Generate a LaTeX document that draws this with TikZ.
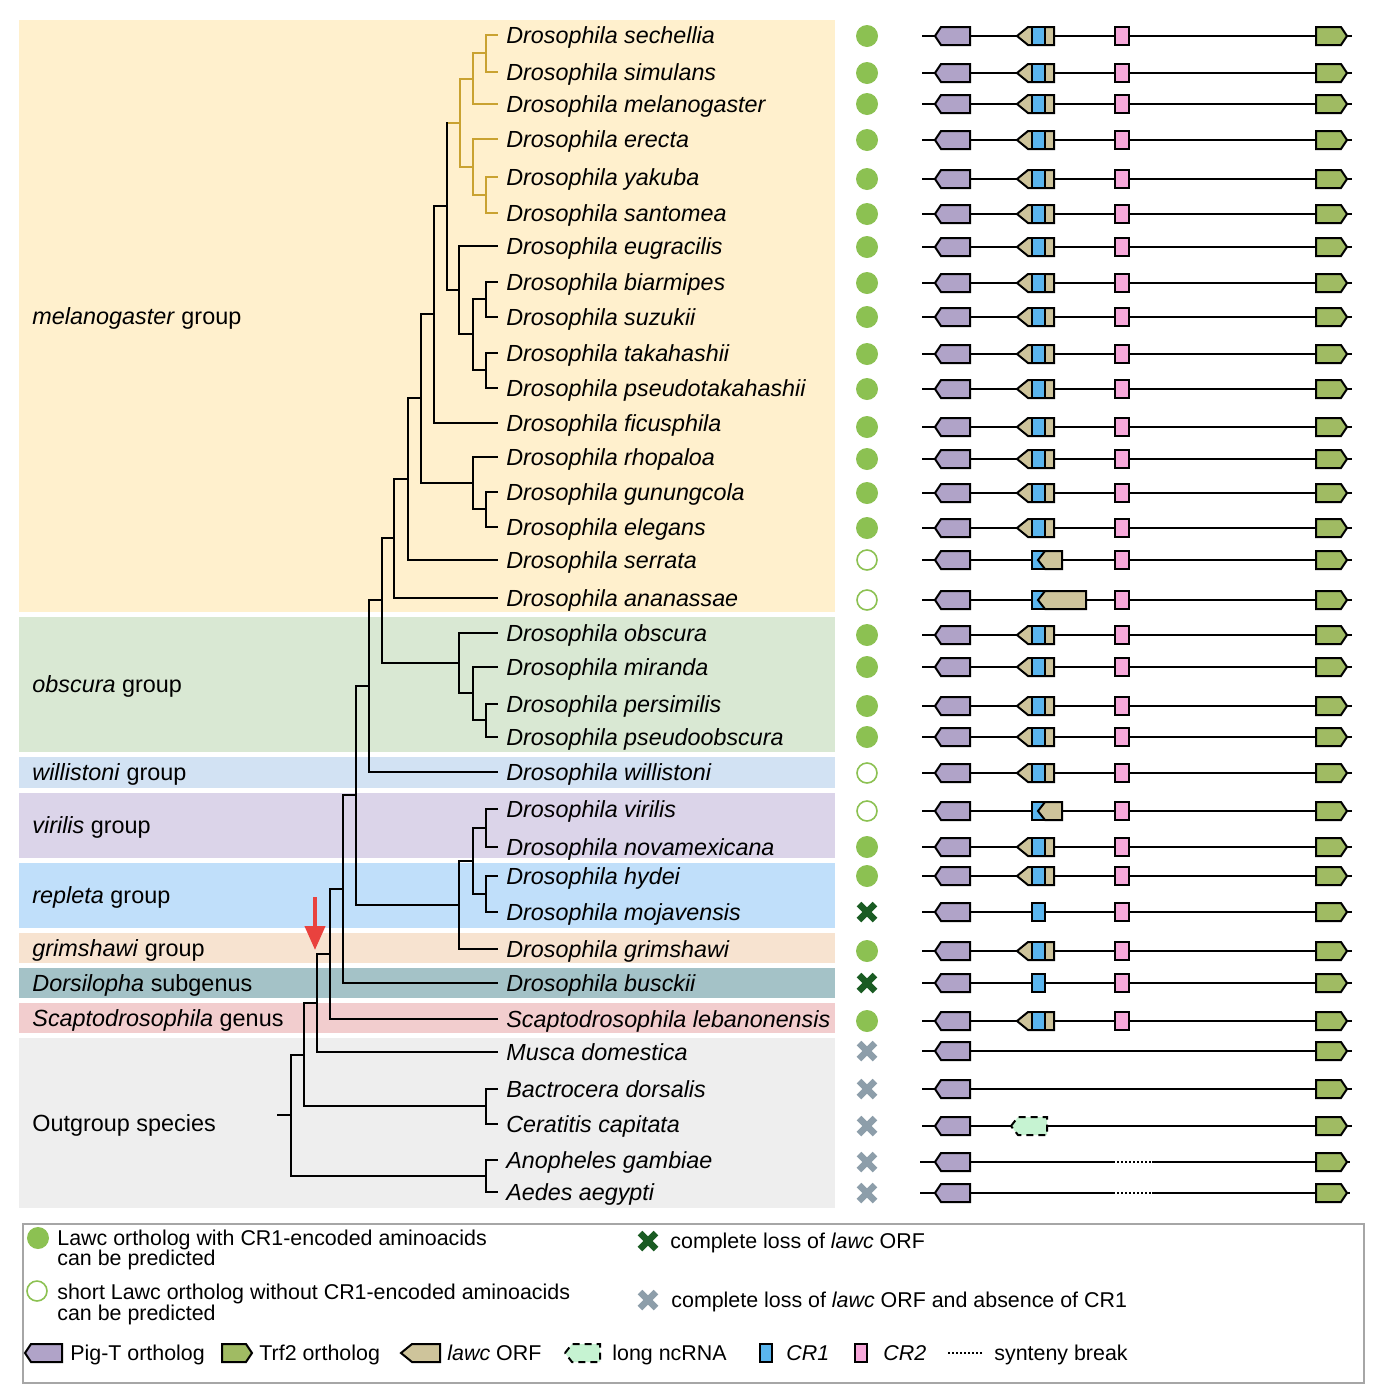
\documentclass[tikz,border=0pt]{standalone}
\usepackage{fontspec}
\setmainfont{Liberation Sans}
\usetikzlibrary{arrows.meta}
\definecolor{bgmel}{HTML}{FFF0CD}
\definecolor{bgobs}{HTML}{D9E8D3}
\definecolor{bgwil}{HTML}{D2E2F3}
\definecolor{bgvir}{HTML}{DBD4E9}
\definecolor{bgrep}{HTML}{C0DFFA}
\definecolor{bggri}{HTML}{F7E3D0}
\definecolor{bgdor}{HTML}{A4C2C7}
\definecolor{bgsca}{HTML}{F2CDCE}
\definecolor{bgout}{HTML}{EEEEEE}
\definecolor{treegold}{HTML}{C9A231}
\definecolor{pigcol}{HTML}{B0A3C8}
\definecolor{trfcol}{HTML}{A0BB63}
\definecolor{lawccol}{HTML}{CEC49B}
\definecolor{cronecol}{HTML}{5AB5EE}
\definecolor{crtwocol}{HTML}{F7A8DA}
\definecolor{ncrnacol}{HTML}{C6F3D2}
\definecolor{dotgreen}{HTML}{8CC152}
\definecolor{xdarkcol}{HTML}{1A5C23}
\definecolor{xgraycol}{HTML}{8D9EAA}
\definecolor{arrowred}{HTML}{E9423E}
\definecolor{legborder}{HTML}{A6A6A6}

\newcommand\gLine{\draw[gline] (922,0) -- (1352,0);}
\newcommand\gPig{\draw[gbox,fill=pigcol] (935,0) -- (941,-9) -- (970,-9) -- (970,9) -- (941,9) -- cycle;}
\newcommand\gTrf{\draw[gbox,fill=trfcol] (1316,-9) -- (1341,-9) -- (1347,0) -- (1341,9) -- (1316,9) -- cycle;}
\newcommand\gCRtwo{\draw[gbox,fill=crtwocol] (1115,-9) rectangle (1129,9);}
\newcommand\gCRone{\draw[gbox,fill=cronecol] (1032,-9) rectangle (1045,9);}
\newcommand\gLawcFull{\draw[gbox,fill=lawccol] (1017,0) -- (1028,-9) -- (1054,-9) -- (1054,9) -- (1028,9) -- cycle; \draw[gbox,fill=cronecol] (1032,-9) rectangle (1045,9);}

\tikzset{
  gline/.style={line width=0.9pt,black},
  gbox/.style={line width=1pt,black,line join=miter},
  gtree/.style={line width=1pt,black},
  goldtree/.style={line width=1pt,treegold},
  sp/.style={anchor=west,inner sep=1.5pt,yshift=-1pt,font=\fontsize{11.65pt}{14pt}\selectfont\itshape,text height=8.4pt,text depth=2.4pt},
  grp/.style={anchor=west,inner sep=0pt,yshift=-1pt,font=\fontsize{11.7pt}{14pt}\selectfont,text height=8.4pt,text depth=2.4pt},
  lg/.style={anchor=west,inner sep=0pt,yshift=-1pt,font=\fontsize{10.7pt}{12pt}\selectfont,text height=7.8pt,text depth=2.2pt},
  rowF/.pic={\gLine\gPig\gLawcFull\gCRtwo\gTrf},
  rowS/.pic={\gLine\gPig\gCRone\draw[gbox,fill=lawccol] (1038,0) -- (1045,-9) -- (1062,-9) -- (1062,9) -- (1045,9) -- cycle;\gCRtwo\gTrf},
  rowL/.pic={\gLine\gPig\gCRone\draw[gbox,fill=lawccol] (1038,0) -- (1045,-9) -- (1086,-9) -- (1086,9) -- (1045,9) -- cycle;\gCRtwo\gTrf},
  rowC/.pic={\gLine\gPig\gCRone\gCRtwo\gTrf},
  rowN/.pic={\gLine\gPig\gTrf},
  rowR/.pic={\gLine\gPig\draw[gbox,fill=ncrnacol,dash pattern=on 3.5pt off 2.5pt] (1011,0) -- (1018,-9) -- (1047,-9) -- (1047,9) -- (1018,9) -- cycle;\gTrf},
  rowB/.pic={\draw[gline] (920,0) -- (1113,0); \draw[line width=0.8pt,dash pattern=on 1pt off 1pt] (1113,0) -- (1152,0); \draw[gline] (1152,0) -- (1350,0); \gPig\gTrf},
  dotf/.pic={\fill[dotgreen] (0,0) circle[radius=11];},
  doto/.pic={\draw[dotgreen,line width=0.8pt,fill=white] (0,0) circle[radius=10];},
  dotd/.pic={\draw[xdarkcol,line width=3.2pt] (-8,-8) -- (8,8) (-8,8) -- (8,-8);},
  dotg/.pic={\draw[xgraycol,line width=3.2pt] (-8,-8) -- (8,8) (-8,8) -- (8,-8);},
}

\begin{document}
\begin{tikzpicture}[x=0.5pt,y=-0.5pt]
\useasboundingbox (0,0) rectangle (1380,1393);

% background bands
\fill[bgmel] (19,20) rectangle (835,612);
\fill[bgobs] (19,617) rectangle (835,752);
\fill[bgwil] (19,757) rectangle (835,788);
\fill[bgvir] (19,793) rectangle (835,858);
\fill[bgrep] (19,863) rectangle (835,928);
\fill[bggri] (19,933) rectangle (835,963);
\fill[bgdor] (19,968) rectangle (835,998);
\fill[bgsca] (19,1003) rectangle (835,1033);
\fill[bgout] (19,1038) rectangle (835,1208);

% group labels
\node[grp] (gmel) at (32,316) {\textit{melanogaster} group};
\node[grp] (gobs) at (32,684) {\textit{obscura} group};
\node[grp] (gwil) at (32,772) {\textit{willistoni} group};
\node[grp] (gvir) at (32,825) {\textit{virilis} group};
\node[grp] (grep) at (32,895) {\textit{repleta} group};
\node[grp] (ggri) at (32,948) {\textit{grimshawi} group};
\node[grp] (gdor) at (32,983) {\textit{Dorsilopha} subgenus};
\node[grp] (gsca) at (32,1018) {\textit{Scaptodrosophila} genus};
\node[grp] (gout) at (32,1123) {Outgroup species};

% species tips and names
\foreach \y/\nm [count=\i] in {
 35/Drosophila sechellia, 72/Drosophila simulans, 104/Drosophila melanogaster,
 139/Drosophila erecta, 177/Drosophila yakuba, 213/Drosophila santomea,
 246/Drosophila eugracilis, 282/Drosophila biarmipes, 317/Drosophila suzukii,
 353/Drosophila takahashii, 388/Drosophila pseudotakahashii, 423/Drosophila ficusphila,
 457/Drosophila rhopaloa, 492/Drosophila gunungcola, 527/Drosophila elegans,
 560/Drosophila serrata, 598/Drosophila ananassae, 633/Drosophila obscura,
 667/Drosophila miranda, 704/Drosophila persimilis, 737/Drosophila pseudoobscura,
 772/Drosophila willistoni, 809/Drosophila virilis, 847/Drosophila novamexicana,
 876/Drosophila hydei, 912/Drosophila mojavensis, 949/Drosophila grimshawi,
 983/Drosophila busckii, 1019/Scaptodrosophila lebanonensis, 1052/Musca domestica,
 1089/Bactrocera dorsalis, 1124/Ceratitis capitata, 1160/Anopheles gambiae,
 1192/Aedes aegypti}
{
  \coordinate (t\i) at (498,\y);
  \node[sp] (s\i) at (503,\y) {\nm};
}

% internal nodes
\coordinate (a1) at (486,53);
\coordinate (a2) at (473,79);
\coordinate (a3) at (486,195);
\coordinate (a4) at (473,167);
\coordinate (a5) at (460,123);
\coordinate (b1) at (486,299);
\coordinate (b2) at (486,370);
\coordinate (b3) at (473,334);
\coordinate (b4) at (459,290);
\coordinate (b5) at (447,206);
\coordinate (b6) at (434,314);
\coordinate (c1) at (486,509);
\coordinate (c2) at (473,483);
\coordinate (b7) at (421,398);
\coordinate (b8) at (408,479);
\coordinate (b9) at (394,538);
\coordinate (d1) at (486,720);
\coordinate (d2) at (473,693);
\coordinate (d3) at (459,663);
\coordinate (b10) at (382,600);
\coordinate (b11) at (369,686);
\coordinate (e1) at (486,828);
\coordinate (e2) at (486,894);
\coordinate (e3) at (473,861);
\coordinate (e4) at (459,905);
\coordinate (b12) at (356,795);
\coordinate (b13) at (343,889);
\coordinate (b14) at (330,954);
\coordinate (b15) at (317,1003);
\coordinate (f1) at (486,1106);
\coordinate (b16) at (304,1055);
\coordinate (f2) at (486,1176);
\coordinate (root) at (291,1115);
\coordinate (rootstub) at (277,1115);

% tree edges
\foreach \p/\c in {a1/t1,a1/t2,a2/a1,a2/t3,a3/t5,a3/t6,a4/t4,a4/a3,a5/a2,a5/a4}
  \draw[goldtree] (\p) |- (\c);
\foreach \p/\c in {b1/t8,b1/t9,b2/t10,b2/t11,b3/b1,b3/b2,b4/t7,b4/b3,b5/a5,b5/b4,
  b6/b5,b6/t12,c1/t14,c1/t15,c2/t13,c2/c1,b7/b6,b7/c2,b8/b7,b8/t16,b9/b8,b9/t17,
  d1/t20,d1/t21,d2/t19,d2/d1,d3/t18,d3/d2,b10/b9,b10/d3,b11/b10,b11/t22,
  e1/t23,e1/t24,e2/t25,e2/t26,e3/e1,e3/e2,e4/e3,e4/t27,b12/b11,b12/e4,
  b13/b12,b13/t28,b14/b13,b14/t29,b15/b14,b15/t30,f1/t31,f1/t32,
  b16/b15,b16/f1,f2/t33,f2/t34,root/b16,root/f2}
  \draw[gtree] (\p) |- (\c);
\draw[goldtree] ([xshift=0.5pt]b5 |- a5) -- (a5);
\draw[gtree] (rootstub) -- (root);

% red arrow
\coordinate (arrS) at (315,897);
\coordinate (arrE) at (315,950);
\draw[arrowred,line width=2pt,-{Triangle[width=10pt,length=12pt]}] (arrS) -- (arrE);

% status symbols
\foreach \y/\t in {36/f,73/f,104/f,140/f,179/f,214/f,247/f,283/f,317/f,354/f,389/f,427/f,459/f,493/f,528/f,
  560/o,600/o,635/f,667/f,706/f,737/f,773/o,811/o,847/f,876/f,912/d,951/f,983/d,1021/f,
  1051/g,1089/g,1126/g,1162/g,1193/g}
  \pic at (867,\y) {dot\t};

% gene structures
\foreach \y/\t in {36/F,73/F,104/F,140/F,179/F,214/F,247/F,283/F,317/F,354/F,389/F,427/F,459/F,493/F,528/F,
  560/S,600/L,635/F,667/F,706/F,737/F,773/F,811/S,847/F,876/F,912/C,951/F,983/C,1021/F,
  1051/N,1089/N,1126/R,1162/B,1193/B}
  \pic at (0,\y) {row\t};

% legend
\draw[legborder,line width=1pt] (23,1224) rectangle (1364,1383);
\pic at (38,1238) {dotf};
\node[lg] (l1a) at (57,1238) {Lawc ortholog with CR1-encoded aminoacids};
\node[lg] (l1b) at (57,1258) {can be predicted};
\pic at (37,1291) {doto};
\node[lg] (l2a) at (57,1292) {short Lawc ortholog without CR1-encoded aminoacids};
\node[lg] (l2b) at (57,1313) {can be predicted};
\pic at (648,1241) {dotd};
\node[lg] (l3) at (670,1241) {complete loss of \textit{lawc} ORF};
\pic at (648,1300) {dotg};
\node[lg] (l4) at (671,1300) {complete loss of \textit{lawc} ORF and absence of CR1};

\draw[gbox,fill=pigcol] (25,1353) -- (31,1344) -- (62,1344) -- (62,1362) -- (31,1362) -- cycle;
\node[lg] (l5) at (70,1353) {Pig-T ortholog};
\draw[gbox,fill=trfcol] (222,1344) -- (246,1344) -- (252,1353) -- (246,1362) -- (222,1362) -- cycle;
\node[lg] (l6) at (259,1353) {Trf2 ortholog};
\draw[gbox,fill=lawccol] (401,1353) -- (412,1344) -- (440,1344) -- (440,1362) -- (412,1362) -- cycle;
\node[lg] (l7) at (447,1353) {\textit{lawc} ORF};
\draw[gbox,fill=ncrnacol,dash pattern=on 3.5pt off 2.5pt] (565,1353) -- (572,1344) -- (600,1344) -- (600,1362) -- (572,1362) -- cycle;
\node[lg] (l8) at (612,1353) {long ncRNA};
\draw[gbox,fill=cronecol] (760,1344) rectangle (772,1362);
\node[lg] (l9) at (786,1353) {\textit{CR1}};
\draw[gbox,fill=crtwocol] (855,1344) rectangle (867,1362);
\node[lg] (l10) at (883,1353) {\textit{CR2}};
\draw[line width=0.8pt,dash pattern=on 1pt off 1pt] (948,1353) -- (983,1353);
\node[lg] (l11) at (994,1353) {synteny break};
\end{tikzpicture}
\end{document}
